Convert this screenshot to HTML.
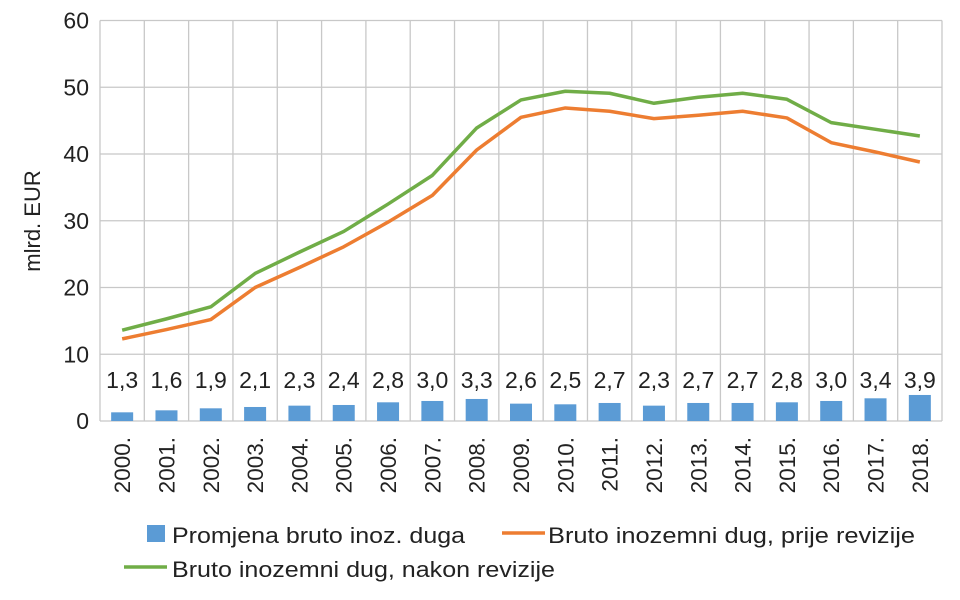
<!DOCTYPE html>
<html><head><meta charset="utf-8"><style>
html,body{margin:0;padding:0;background:#fff;}
svg{display:block;font-family:"Liberation Sans",Arial,sans-serif;}
</style></head><body>
<svg id="c" width="960" height="600" xmlns="http://www.w3.org/2000/svg">
<g id="grid" stroke="#c8c8c8" stroke-width="1.3" fill="none"></g>
<g id="bars" fill="#5b9bd5"></g>
<polyline id="or" fill="none" stroke="#ed7d31" stroke-width="3.5" stroke-linejoin="round"/>
<polyline id="gr" fill="none" stroke="#70ad47" stroke-width="3.5" stroke-linejoin="round"/>
<g id="txt" fill="#222" font-size="23"></g>
<text x="0" y="0" transform="translate(40,221) rotate(-90)" text-anchor="middle" font-size="22" fill="#222">mlrd. EUR</text>
<rect x="147" y="525" width="18" height="17" fill="#5b9bd5"/>
<text x="172" y="543" font-size="22.5" fill="#222" textLength="293" lengthAdjust="spacingAndGlyphs">Promjena bruto inoz. duga</text>
<line x1="502" y1="533" x2="545" y2="533" stroke="#ed7d31" stroke-width="3.5"/>
<text x="548" y="543" font-size="22.5" fill="#222" textLength="367" lengthAdjust="spacingAndGlyphs">Bruto inozemni dug, prije revizije</text>
<line x1="124" y1="567" x2="167" y2="567" stroke="#70ad47" stroke-width="3.5"/>
<text x="172" y="577" font-size="22.5" fill="#222" textLength="383" lengthAdjust="spacingAndGlyphs">Bruto inozemni dug, nakon revizije</text>
</svg>
<script>
var L=100,R=942,T=20.5,B=421,n=19,w=(R-L)/n,k=(B-T)/60;
var bars=[1.3,1.6,1.9,2.1,2.3,2.4,2.8,3.0,3.3,2.6,2.5,2.7,2.3,2.7,2.7,2.8,3.0,3.4,3.9];
var o=[12.3,13.7,15.2,20.0,23.0,26.1,29.8,33.8,40.6,45.5,46.9,46.4,45.3,45.8,46.4,45.4,41.7,40.3,38.8];
var g=[13.6,15.3,17.1,22.1,25.3,28.4,32.5,36.8,43.9,48.1,49.4,49.1,47.6,48.5,49.1,48.2,44.7,43.7,42.7];
var NS="http://www.w3.org/2000/svg";
function el(p,t,a,tx){var e=document.createElementNS(NS,t);for(var q in a)e.setAttribute(q,a[q]);if(tx!=null)e.textContent=tx;document.getElementById(p).appendChild(e);}
for(var i=0;i<=6;i++){var y=B-i*10*k;el('grid','line',{x1:L,x2:R,y1:y,y2:y});el('txt','text',{x:89,y:y+8,'text-anchor':'end'},String(i*10));}
for(var i=0;i<=n;i++){var x=L+i*w;el('grid','line',{x1:x,x2:x,y1:T,y2:B});}
var po=[],pg=[];
for(var i=0;i<n;i++){var cx=L+(i+.5)*w;
el('bars','rect',{x:cx-11,y:B-bars[i]*k,width:22,height:bars[i]*k});
el('txt','text',{x:cx,y:388,'text-anchor':'middle'},bars[i].toFixed(1).replace('.',','));
el('txt','text',{x:0,y:0,transform:'translate('+(cx+8)+',437) rotate(-90)','text-anchor':'end',"font-size":22.5},(2000+i)+'.');
po.push(cx+','+(B-o[i]*k));pg.push(cx+','+(B-g[i]*k));}
document.getElementById('or').setAttribute('points',po.join(' '));
document.getElementById('gr').setAttribute('points',pg.join(' '));
</script>
</body></html>
